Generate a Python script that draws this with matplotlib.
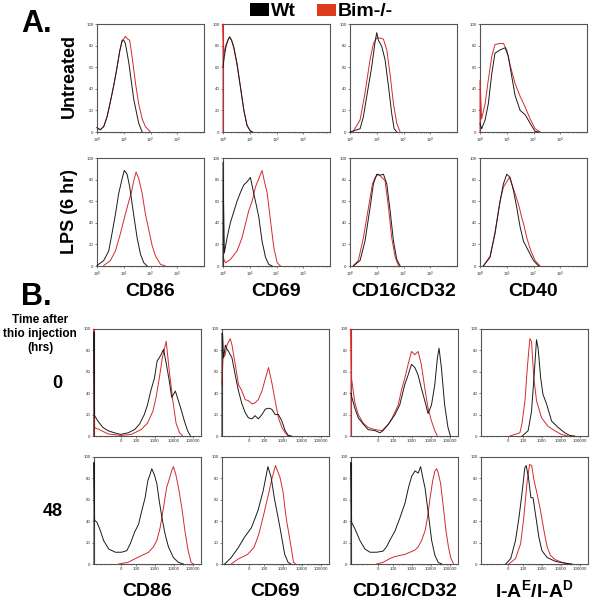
import numpy as np
import matplotlib
matplotlib.use("Agg")
import matplotlib.pyplot as plt
from matplotlib.patches import Rectangle
from matplotlib.ticker import FixedLocator, NullFormatter

plt.rcParams['font.family'] = ['Liberation Sans', 'DejaVu Sans']
plt.rcParams['mathtext.fontset'] = 'custom'
plt.rcParams['mathtext.rm'] = 'Liberation Sans'
plt.rcParams['mathtext.bf'] = 'Liberation Sans:bold'

WT_COLOR = '#1a1a1a'
KO_COLOR = '#d42a2a'

# ---- A. dendritic cells, log axis (values given in decades) ----
cd86_untr_wt_d = [0, 0.12, 0.25, 0.375, 0.5, 0.625, 0.75, 0.85, 0.94, 1.0, 1.06, 1.19, 1.375, 1.56, 1.69]
cd86_untr_wt_y = [4, 2, 5, 14, 28, 43, 60, 75, 85, 85, 82, 64, 30, 8, 0]
cd86_untr_ko_d = [0, 0.12, 0.25, 0.375, 0.5, 0.625, 0.75, 0.85, 0.94, 1.06, 1.15, 1.22, 1.31, 1.44, 1.56, 1.69, 1.81, 2.0]
cd86_untr_ko_y = [4, 2, 5, 14, 28, 43, 60, 75, 84, 88.5, 86, 85, 70, 45, 26, 12, 5, 0]

cd69_untr_wt_d = [0, 0.05, 0.12, 0.2, 0.25, 0.32, 0.4, 0.52, 0.65, 0.78, 0.9, 1.02, 1.1]
cd69_untr_wt_y = [60, 70, 80, 86, 88, 85, 79, 64, 42, 20, 6, 1, 0]
cd69_untr_ko_d = [0, 0, 0.03, 0.1, 0.18, 0.25, 0.32, 0.4, 0.52, 0.65, 0.78, 0.9, 1.02, 1.1]
cd69_untr_ko_y = [0, 100, 72, 80, 85, 88, 85, 78, 63, 42, 20, 6, 1, 0]

cd16_untr_wt_d = [0, 0.375, 0.5, 0.625, 0.81, 0.94, 1.0, 1.06, 1.19, 1.25, 1.31, 1.44, 1.56, 1.65, 1.75]
cd16_untr_wt_y = [0, 3, 14, 33, 60, 84, 92, 85, 79, 73, 67, 42, 17, 3, 0]
cd16_untr_ko_d = [0.12, 0.375, 0.56, 0.75, 0.875, 1.0, 1.125, 1.25, 1.375, 1.5, 1.625, 1.75, 1.875]
cd16_untr_ko_y = [0.5, 11, 36, 67, 82, 87, 87, 86, 76, 53, 26, 8, 0]

cd40_untr_wt_d = [0, 0.06, 0.19, 0.31, 0.44, 0.56, 0.75, 0.94, 1.06, 1.19, 1.31, 1.5, 1.69, 1.875, 2.06, 2.2]
cd40_untr_wt_y = [8, 3, 11, 26, 54, 73, 76, 78, 70, 51, 34, 20, 16, 8, 0.5, 0]
cd40_untr_ko_d = [0, 0, 0.06, 0.19, 0.31, 0.44, 0.56, 0.75, 0.875, 1.0, 1.125, 1.31, 1.5, 1.69, 1.875, 2.06, 2.25]
cd40_untr_ko_y = [0, 48, 12, 26, 48, 70, 81, 82, 82, 76, 62, 45, 33, 23, 12, 3, 0]

cd86_lps_wt_d = [0, 0.25, 0.44, 0.56, 0.69, 0.81, 0.94, 1.02, 1.125, 1.225, 1.35, 1.5, 1.625, 1.75, 1.875]
cd86_lps_wt_y = [0.5, 5, 14, 30, 48, 67, 81, 88.5, 85, 73, 51, 26, 11, 3, 0]
cd86_lps_ko_d = [0.25, 0.5, 0.69, 0.875, 1.06, 1.19, 1.275, 1.375, 1.46, 1.56, 1.69, 1.81, 1.94, 2.06, 2.19, 2.375, 2.56]
cd86_lps_ko_y = [0.5, 5, 14, 30, 48, 60, 67, 79, 87, 81, 67, 48, 33, 19, 9, 1.5, 0]

cd69_lps_wt_d = [0, 0, 0.05, 0.15, 0.275, 0.4, 0.525, 0.65, 0.775, 0.9, 1.025, 1.15, 1.24, 1.34, 1.46, 1.59, 1.71, 1.84]
cd69_lps_wt_y = [0, 96, 12, 26, 40, 50, 60, 68, 75, 78, 82, 67, 57, 45, 23, 8, 1.5, 0]
cd69_lps_ko_d = [0, 0.09, 0.275, 0.525, 0.71, 0.84, 0.96, 1.09, 1.21, 1.34, 1.46, 1.55, 1.65, 1.775, 1.9, 2.025, 2.15]
cd69_lps_ko_y = [8, 3, 6, 14, 26, 39, 51, 60, 73, 81, 88.5, 78, 68, 42, 17, 3, 0]

cd16_lps_wt_d = [0.125, 0.375, 0.56, 0.75, 0.875, 1.0, 1.125, 1.25, 1.375, 1.5, 1.625, 1.75, 1.875]
cd16_lps_wt_y = [0, 5, 23, 54, 76, 85, 84, 85, 76, 51, 23, 6, 0]
cd16_lps_ko_d = [0.125, 0.31, 0.5, 0.69, 0.84, 0.94, 1.06, 1.19, 1.31, 1.44, 1.56, 1.69, 1.81]
cd16_lps_ko_y = [0.5, 5, 26, 54, 76, 82, 85, 82, 79, 54, 26, 8, 0.5]

cd40_lps_wt_d = [0.125, 0.375, 0.56, 0.75, 0.875, 1.0, 1.125, 1.25, 1.375, 1.5, 1.625, 1.81, 2.0, 2.19]
cd40_lps_wt_y = [0, 8, 30, 60, 76, 85, 82, 70, 54, 36, 23, 14, 5, 0]
cd40_lps_ko_d = [0.125, 0.375, 0.56, 0.75, 0.875, 1.0, 1.1, 1.19, 1.31, 1.44, 1.56, 1.65, 1.75, 1.9, 2.06, 2.25]
cd40_lps_ko_y = [0, 9, 31, 60, 73, 78, 82, 76, 67, 57, 45, 37, 26, 14, 5, 0]

# ---- B. peritoneal cells, biexponential axis (fluorescence values) ----
cd86_0h_wt_x = [-400, -400, -372, -250, -135, -72, -27, 0, 33, 83, 153, 275, 406, 600, 940, 1300, 2090,
                2820, 3900, 5700, 7600, 11800, 15000, 22500, 35000, 51500, 71000]
cd86_0h_wt_y = [0, 97, 19, 14, 8, 5, 3, 1.5, 3, 6, 11, 20, 29, 42, 54, 70, 76, 81, 68, 51, 36, 42, 36, 26, 14, 5, 0.5]
cd86_0h_ko_x = [-400, -400, -372, -160, -72, 0, 54, 188, 406, 776, 1140, 1690, 2450, 3900, 5700, 8700, 12800, 19570, 28500]
cd86_0h_ko_y = [0, 100, 8, 5, 2, 0.5, 1.5, 6, 12, 23, 36, 54, 73, 88.5, 60, 33, 12, 3, 0]

cd69_0h_wt_x = [-400, -400, -372, -330, -265, -218, -180, -118, -78, -50, -29, -14, -1, 13, 27, 46, 76, 115,
                175, 260, 390, 580, 880, 1300, 1920, 2820]
cd69_0h_wt_y = [0, 96, 95, 73, 85, 81, 79, 73, 57, 42, 30, 22, 17, 16, 19, 16, 20, 25, 26, 25, 20, 20, 14, 5, 0.5, 0]
cd69_0h_ko_x = [-400, -355, -270, -218, -146, -118, -78, -50, -29, -14, -1, 13, 27, 46, 76, 115, 175, 212,
                260, 390, 580, 880, 1300, 1920]
cd69_0h_ko_y = [48, 73, 76, 85, 91, 85, 67, 48, 42, 34, 33, 30, 31, 34, 42, 53, 64, 57, 50, 33, 17, 8, 3, 0]

cd16_0h_wt_x = [-400, -372, -250, -165, -88, -46, -10, 9, 22, 54, 127, 228, 420, 630, 950, 1420, 2100, 3100,
                4700, 7000, 10600, 15800, 21600, 26400, 34900, 52000, 77500, 104000]
cd16_0h_wt_y = [40, 37, 26, 17, 11, 6, 5, 3, 5, 11, 20, 29, 48, 57, 67, 64, 57, 45, 33, 21, 29, 48, 73, 82, 64, 29, 8, 0]
cd16_0h_ko_x = [-400, -400, -372, -250, -165, -88, -46, -10, 17, 54, 90, 190, 275, 420, 630, 950, 1420, 2100,
                3100, 4700, 7000, 10600, 15800, 21000]
cd16_0h_ko_y = [0, 100, 53, 31, 20, 12, 8, 6, 5, 11, 17, 29, 42, 54, 67, 79, 76, 79, 67, 45, 26, 14, 5, 0.5]

iad_0h_wt_x = [90, 188, 283, 390, 520, 630, 860, 1130, 1740, 3200, 7000, 15800, 28800, 52000]
iad_0h_wt_y = [0, 5, 23, 57, 90, 82, 54, 39, 30, 14, 8, 3, 0.5, 0]
iad_0h_ko_x = [9, 66, 86, 127, 170, 232, 283, 375, 520, 950, 2100, 4700, 10260, 22500]
iad_0h_ko_y = [0, 3, 11, 33, 64, 91, 88.5, 54, 33, 17, 9, 5, 1.5, 0]

cd86_48h_wt_x = [-400, -400, -372, -280, -183, -124, -64, -22, 4, 26, 46, 84, 136, 205, 305, 425, 561, 680,
                 950, 1260, 1680, 2300, 3400, 5100, 9300, 17000, 31000]
cd86_48h_wt_y = [0, 95, 41, 39, 31, 22, 14, 11, 11, 12.5, 19, 30, 37, 50, 62, 78, 84, 89, 83, 75, 59, 44, 28, 16, 6, 1.5, 0]
cd86_48h_ko_x = [-8, 32, 90, 205, 465, 830, 1260, 1880, 2820, 4150, 5380, 7600, 9300, 12300, 17000, 25400,
                 37300, 55000, 79000, 106000]
cd86_48h_ko_y = [0, 1.5, 5, 8, 11, 16, 22, 34, 53, 72, 78, 87.5, 91, 84, 72, 53, 31, 12.5, 1.5, 0]

cd69_48h_wt_x = [-290, -130, -53, -17, 11, 44, 88, 162, 240, 350, 700, 1240, 1860, 2600]
cd69_48h_wt_y = [0, 6, 15, 25, 34, 50, 68, 91, 81, 62, 34, 9, 1.5, 0]
cd69_48h_ko_x = [-130, -53, -4, 22, 50, 98, 188, 275, 406, 700, 1000, 1480, 2500, 3600, 4700]
cd69_48h_ko_y = [0, 4.6, 9, 15.5, 28, 47, 68, 81, 92, 81, 68, 43, 19, 1.5, 0]

cd16_48h_wt_x = [-400, -400, -372, -250, -135, -71, -34, -4, 22, 41, 65, 128, 232, 435, 650, 970, 1450, 2130,
                 2850, 3680, 4870, 7250, 10800, 16000, 24000, 36300]
cd16_48h_wt_y = [0, 95, 39, 33, 22, 14, 11, 11, 12, 16, 22, 31, 43, 57, 71, 82, 87, 85, 91, 81, 71, 47, 22, 8, 1.5, 0]
cd16_48h_ko_x = [-4, 22, 65, 128, 232, 435, 776, 1450, 2130, 3200, 4870, 6500, 9000, 12300, 16000, 19900,
                 24000, 32000, 44500, 61000, 82000, 108000, 149000]
cd16_48h_ko_y = [0, 1.5, 5, 7, 8, 9, 11, 13, 16, 22, 31, 43, 62, 78, 87, 89, 85, 75, 53, 31, 16, 6, 0.5]

iad_48h_wt_x = [-8, 12, 35, 58, 90, 125, 148, 195, 262, 340, 455, 690, 1000, 1880, 5050, 17000, 37300]
iad_48h_wt_y = [0, 5, 22, 43, 68, 90, 92, 81, 62, 62, 47, 25, 12.5, 6, 2.5, 0.6, 0]
iad_48h_ko_x = [4, 35, 73, 109, 168, 225, 290, 385, 565, 840, 1280, 1880, 2790, 5050, 11300, 31000]
iad_48h_ko_y = [0, 5, 19, 43, 78, 93, 92, 78, 65, 50, 31, 16, 8, 4, 1.5, 0]

col_labels = ['CD86', 'CD69', 'CD16/CD32', 'CD40']
col_labels_b = ['CD86', 'CD69', 'CD16/CD32', r'I-A$^{\mathbf{E}}$/I-A$^{\mathbf{D}}$']
biex_ticks = [0, 100, 1000, 10000, 100000]
biex_ticklabels = ['0', '100', '1000', '10000', '100000']

W, H = 591, 601
fig = plt.figure(figsize=(W / 100, H / 100), dpi=100)
fig.patch.set_facecolor('white')


def add_panel(left, top, width=107, height=108):
    return fig.add_axes([left / W, 1 - (top + height) / H, width / W, height / H])


def style(ax):
    for s in ax.spines.values():
        s.set_color('#555555')
        s.set_linewidth(0.8)
    ax.set_ylim(0, 100)
    ax.set_yticks(range(0, 101, 20))
    ax.tick_params(labelsize=3.2, labelcolor='#333333', color='#555555',
                   length=1.5, width=0.5, pad=1)
    ax.tick_params(which='minor', length=1, width=0.4, color='#777777')


def draw_pair(ax, wx, wy, kx, ky):
    # curves sit on top of the frame so the first-channel spikes stay visible
    ax.plot(kx, ky, color=KO_COLOR, lw=0.7, zorder=3, clip_on=False)
    ax.plot(wx, wy, color=WT_COLOR, lw=0.7, zorder=3, clip_on=False)


def biex_fwd(x):
    return np.arcsinh(np.asarray(x, dtype=float) / 32.0) / np.log(10)


def biex_inv(y):
    return 32.0 * np.sinh(np.asarray(y, dtype=float) * np.log(10))


# row A
rows_a = [
    [(cd86_untr_wt_d, cd86_untr_wt_y, cd86_untr_ko_d, cd86_untr_ko_y),
     (cd69_untr_wt_d, cd69_untr_wt_y, cd69_untr_ko_d, cd69_untr_ko_y),
     (cd16_untr_wt_d, cd16_untr_wt_y, cd16_untr_ko_d, cd16_untr_ko_y),
     (cd40_untr_wt_d, cd40_untr_wt_y, cd40_untr_ko_d, cd40_untr_ko_y)],
    [(cd86_lps_wt_d, cd86_lps_wt_y, cd86_lps_ko_d, cd86_lps_ko_y),
     (cd69_lps_wt_d, cd69_lps_wt_y, cd69_lps_ko_d, cd69_lps_ko_y),
     (cd16_lps_wt_d, cd16_lps_wt_y, cd16_lps_ko_d, cd16_lps_ko_y),
     (cd40_lps_wt_d, cd40_lps_wt_y, cd40_lps_ko_d, cd40_lps_ko_y)],
]
lefts_a = [97, 223, 350, 480]
tops_a = [24, 158]
for r, top in enumerate(tops_a):
    for c, left in enumerate(lefts_a):
        ax = add_panel(left, top)
        wd, wy, kd, ky = rows_a[r][c]
        draw_pair(ax, 10 ** np.array(wd), wy, 10 ** np.array(kd), ky)
        ax.set_xscale('log')
        ax.set_xlim(1, 1e4)
        ax.set_xticks([1, 10, 100, 1000])
        style(ax)

# row B
rows_b = [
    [(cd86_0h_wt_x, cd86_0h_wt_y, cd86_0h_ko_x, cd86_0h_ko_y),
     (cd69_0h_wt_x, cd69_0h_wt_y, cd69_0h_ko_x, cd69_0h_ko_y),
     (cd16_0h_wt_x, cd16_0h_wt_y, cd16_0h_ko_x, cd16_0h_ko_y),
     (iad_0h_wt_x, iad_0h_wt_y, iad_0h_ko_x, iad_0h_ko_y)],
    [(cd86_48h_wt_x, cd86_48h_wt_y, cd86_48h_ko_x, cd86_48h_ko_y),
     (cd69_48h_wt_x, cd69_48h_wt_y, cd69_48h_ko_x, cd69_48h_ko_y),
     (cd16_48h_wt_x, cd16_48h_wt_y, cd16_48h_ko_x, cd16_48h_ko_y),
     (iad_48h_wt_x, iad_48h_wt_y, iad_48h_ko_x, iad_48h_ko_y)],
]
lefts_b = [94, 222, 351, 481]
tops_b = [329, 457]
minor_b = [-300, -200, -100, -50, 50] + [m * 10 ** e for e in range(2, 6) for m in range(2, 10)]
for r, top in enumerate(tops_b):
    for c, left in enumerate(lefts_b):
        ax = add_panel(left, top, height=107)
        wx, wy, kx, ky = rows_b[r][c]
        draw_pair(ax, wx, wy, kx, ky)
        ax.set_xscale('function', functions=(biex_fwd, biex_inv))
        ax.set_xlim(-400, 260000)
        ax.set_xticks(biex_ticks)
        ax.set_xticklabels(biex_ticklabels)
        ax.xaxis.set_minor_locator(FixedLocator([m for m in minor_b if m < 260000]))
        ax.xaxis.set_minor_formatter(NullFormatter())
        style(ax)

# column labels
for c, left in enumerate(lefts_a):
    fig.text((left + 53.5) / W, 1 - 291 / H, col_labels[c], ha='center', va='center',
             fontsize=14, fontweight='bold')
for c, left in enumerate(lefts_b):
    fig.text((left + 53.5) / W, 1 - 591 / H, col_labels_b[c], ha='center', va='center',
             fontsize=14, fontweight='bold')

# row labels
fig.text(69 / W, 1 - 76 / H, 'Untreated', rotation=90, ha='center', va='center',
         fontsize=13, fontweight='bold')
fig.text(70 / W, 1 - 211 / H, 'LPS (6 hr)', rotation=90, ha='center', va='center',
         fontsize=13, fontweight='bold')
fig.text(40 / W, 1 - 334 / H, 'Time after\nthio injection\n(hrs)', ha='center', va='center',
         fontsize=8.5, fontweight='bold', linespacing=1.25)
fig.text(57 / W, 1 - 383 / H, '0', ha='center', va='center', fontsize=13, fontweight='bold')
fig.text(53 / W, 1 - 512 / H, '48', ha='center', va='center', fontsize=13, fontweight='bold')

# panel letters
fig.text(21 / W, 1 - 32 / H, 'A.', ha='left', va='baseline', fontsize=22, fontweight='bold')
fig.text(21 / W, 1 - 305 / H, 'B.', ha='left', va='baseline', fontsize=22, fontweight='bold')

# legend
fig.add_artist(Rectangle((250 / W, 1 - 16 / H), 19 / W, 13 / H, transform=fig.transFigure,
                         facecolor='black', edgecolor='none'))
fig.text(271 / W, 1 - 16 / H, 'Wt', ha='left', va='baseline', fontsize=14, fontweight='bold')
fig.add_artist(Rectangle((317 / W, 1 - 16 / H), 19 / W, 12 / H, transform=fig.transFigure,
                         facecolor='#dd3b1c', edgecolor='none'))
fig.text(338 / W, 1 - 16 / H, 'Bim-/-', ha='left', va='baseline', fontsize=14, fontweight='bold')

fig.savefig('out.png', dpi=100)
